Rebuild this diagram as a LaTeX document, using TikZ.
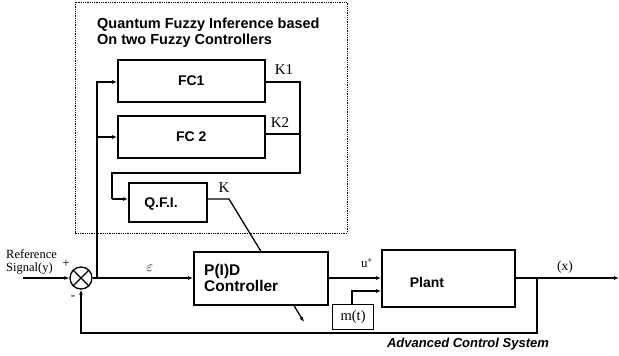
\documentclass[tikz,border=0pt]{standalone}
\usepackage{fontspec}
\setmainfont{Liberation Serif}
\setsansfont{Liberation Sans}
\usetikzlibrary{arrows.meta,calc}
\begin{document}
\begin{tikzpicture}[x=1pt,y=-1pt,
  blk/.style={draw,line width=1.6pt,fill=white,inner sep=0pt,anchor=north west},
  con/.style={line width=1.3pt},
  arr/.style={con,-{Latex[length=5pt,width=4pt]}},
  lbl/.style={font=\sffamily\bfseries\fontsize{14}{16}\selectfont,inner sep=0pt},
  ser/.style={font=\fontsize{13}{13}\selectfont,inner sep=0pt}]
\useasboundingbox (0,0) rectangle (619,356);
% dotted region
\draw[densely dotted,line width=0.8pt] (75,2) rectangle (347,233);
\node[anchor=base west,inner sep=0pt,font=\sffamily\bfseries\fontsize{14.5}{16}\selectfont] (title1) at (97,28) {Quantum Fuzzy Inference based};
\node[anchor=base west,inner sep=0pt,font=\sffamily\bfseries\fontsize{14.5}{16}\selectfont] (title2) at (97,44) {On two Fuzzy Controllers};
% blocks
\node[blk,minimum width=147pt,minimum height=42pt] (fc1) at (117,59) {};
\node[lbl] at (fc1.center) {FC1};
\node[blk,minimum width=147pt,minimum height=42pt] (fc2) at (117,115) {};
\node[lbl] at (fc2.center) {FC 2};
\node[blk,minimum width=78pt,minimum height=39pt] (qfi) at (128,182) {};
\node[lbl] at (161,204) {Q.F.I.};
% K diagonal (behind controller)
\coordinate (kb) at (229,199);
\coordinate (ke) at (304,322);
\draw[arr] (qfi.east |- kb) -- (kb) -- (ke);
\node[blk,minimum width=134pt,minimum height=53pt] (pid) at (193,251) {};
\node[anchor=base west,inner sep=0pt,font=\sffamily\bfseries\fontsize{15.5}{16}\selectfont] (pidt1) at (204,275) {P(I)D};
\node[anchor=base west,inner sep=0pt,font=\sffamily\bfseries\fontsize{15.5}{16}\selectfont] (pidt2) at (204,291) {Controller};
\node[blk,minimum width=133pt,minimum height=57pt] (plant) at (381,249) {};
\node[lbl] at (427,282) {Plant};
\node[draw,line width=1.2pt,fill=white,inner sep=0pt,anchor=north west,minimum width=41pt,minimum height=25pt] (m) at (332,304) {};
\node[ser,font=\fontsize{14.5}{14}\selectfont] at (m.center) {m(t)};
% summing junction
\node[draw,circle,line width=1.3pt,minimum size=22pt,inner sep=0pt] (sum) at (81,278) {};
\draw[line width=1.3pt] (sum.north west) -- (sum.south east) (sum.north east) -- (sum.south west);
% signals
\coordinate (in) at (23,278);
\draw[arr] (in) -- (sum);
\coordinate (br) at (97,278);
\draw[arr] (sum.east) -- (pid.west |- sum);
\draw[arr] (br) -- (97,82) -- (fc1.west |- 0,82);
\draw[arr] (97,137) -- (fc2.west |- 0,137);
\coordinate (j) at (300,82);
\draw[con] (fc1.east |- j) -- (j) -- (300,173) -- (112,173) -- (112,199);
\draw[arr] (112,199) -- (qfi.west |- 0,199);
\draw[con] (fc2.east |- 0,134) -- (300,134);
\draw[arr] (pid.east |- 0,278) -- (plant.west |- 0,278);
\draw[arr] (m.north -| 352,0) -- (352,291) -- (plant.west |- 0,291);
\coordinate (out) at (619,278);
\draw[arr] (plant.east |- out) -- (out);
\coordinate (fb) at (537,278);
\draw[arr] (fb) -- (537,333) -- (81,333) -- (sum.south);
% labels
\node[ser,font=\fontsize{15}{15}\selectfont] at (284,70) {K1};
\node[ser,font=\fontsize{15}{15}\selectfont] at (280,123) {K2};
\node[ser,font=\fontsize{15}{15}\selectfont] at (224,188) {K};
\node[ser,align=left,anchor=west,font=\fontsize{12.5}{13}\selectfont] at (6,262) {Reference\\Signal(y)};
\node[ser] at (66,264) {+};
\node[ser] at (73,298) {-};
\node[ser,font=\fontsize{14}{14}\selectfont] at (150,268) {$\varepsilon$};
\node[ser] at (367,263) {u$^{*}$};
\node[ser,font=\fontsize{13.5}{14}\selectfont] at (565,267) {(x)};
\node[font=\sffamily\bfseries\itshape\fontsize{13}{14}\selectfont,inner sep=0pt] at (468,344) {Advanced Control System};
\end{tikzpicture}
\end{document}
